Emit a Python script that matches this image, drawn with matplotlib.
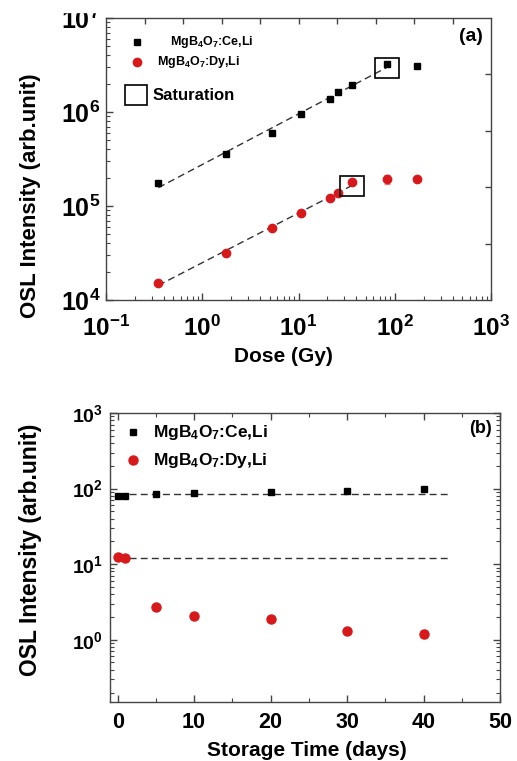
import numpy as np
import matplotlib
matplotlib.use("Agg")
import matplotlib.pyplot as plt
from matplotlib.ticker import LogLocator, FuncFormatter, MultipleLocator, FixedLocator, NullFormatter, NullLocator
from matplotlib.patches import Rectangle

plt.rcParams['font.family'] = ['Liberation Sans', 'DejaVu Sans']
plt.rcParams['font.weight'] = 'bold'
plt.rcParams['mathtext.fontset'] = 'custom'
plt.rcParams['mathtext.rm'] = 'Liberation Sans:bold'
plt.rcParams['mathtext.bf'] = 'Liberation Sans:bold'
plt.rcParams['mathtext.it'] = 'Liberation Sans:bold'

# ---------------- data: panel (a) dose response ----------------
dose_gy = [0.35, 1.75, 5.25, 10.5, 21, 26, 36, 84, 170]
ce_dose_intensity = [1.74e5, 3.55e5, 6.0e5, 9.5e5, 1.39e6, 1.63e6, 1.94e6, 3.24e6, 3.08e6]
dy_dose_intensity = [1.53e4, 3.14e4, 5.8e4, 8.36e4, 1.22e5, 1.38e5, 1.81e5, 1.92e5, 1.92e5]
dy_dose_err = [400, 800, 1500, 2000, 3000, 3500, 6000, 22000, 6000]
ce_linear_points = 8      # points used for the dashed power-law fit
dy_linear_points = 7
ce_saturation = (84, 3.24e6)
dy_saturation = (36, 1.81e5)

# ---------------- data: panel (b) fading ----------------
storage_days = [0, 1, 5, 10, 20, 30, 40]
ce_fading = [79, 80, 85, 87, 90, 94, 98]
dy_fading = [12.5, 12.0, 2.74, 2.09, 1.87, 1.29, 1.19]
dy_fading_err = [0.4, 0.4, 0.08, 0.08, 0.06, 0.07, 0.15]
ce_ref_level = 85
dy_ref_level = 12
ref_line_days = [0, 43.3]

label_ce = 'MgB$_4$O$_7$:Ce,Li'
label_dy = 'MgB$_4$O$_7$:Dy,Li'

RED = '#d7191c'
ERR = '#e88a8c'
LINE = '#333333'
SPINE = '#444444'

fig = plt.figure(figsize=(5.17, 7.61), dpi=100)
W, H = 517, 761


def px_axes(l, t, r, b):
    return fig.add_axes([l / W, 1 - b / H, (r - l) / W, (b - t) / H])


def logfmt(v, pos):
    e = int(round(np.log10(v)))
    return r'$\mathbf{10^{%d}}$' % e


# ================= panel (a) =================
ax = px_axes(106, 18, 491, 300)
ax.set_xscale('log')
ax.set_yscale('log')
ax.set_xlim(0.1, 1000)
ax.set_ylim(1e4, 1e7)

# fitted dashed lines
for xs, ys, n in [(dose_gy, ce_dose_intensity, ce_linear_points),
                  (dose_gy, dy_dose_intensity, dy_linear_points)]:
    lx = np.log10(xs[:n]); ly = np.log10(ys[:n])
    k, c = np.polyfit(lx, ly, 1)
    xx = np.array([xs[0], xs[n - 1] * 1.05])
    ax.plot(xx, 10 ** (c + k * np.log10(xx)), ls=(0, (5, 3)), color=LINE, lw=1.0, zorder=2)

ax.plot(dose_gy, ce_dose_intensity, 's', color='black', ms=5, zorder=3)
ax.errorbar(dose_gy, dy_dose_intensity, yerr=dy_dose_err, fmt='o', color=RED,
            ecolor=ERR, elinewidth=1, capsize=2, ms=6, zorder=3)

# saturation boxes (in log space around points)
for (sx, sy) in [ce_saturation, dy_saturation]:
    x0 = sx / 10 ** 0.13; x1 = sx * 10 ** 0.12
    y0 = sy / 10 ** 0.15; y1 = sy * 10 ** 0.062
    ax.add_patch(Rectangle((x0, y0), x1 - x0, y1 - y0, fill=False, ec='black', lw=1.2, zorder=4))

ax.tick_params(which='both', direction='in', top=False, right=False, color=SPINE)
ax.tick_params(which='major', length=5, width=1)
ax.tick_params(which='minor', length=3, width=0.8)
ax.xaxis.set_major_locator(LogLocator(base=10, numticks=10))
ax.xaxis.set_minor_locator(LogLocator(base=10, subs=np.arange(2, 10), numticks=20))
ax.yaxis.set_major_locator(LogLocator(base=10, numticks=10))
ax.yaxis.set_minor_locator(LogLocator(base=10, subs=np.arange(2, 10), numticks=20))
ax.xaxis.set_major_formatter(FuncFormatter(logfmt))
ax.yaxis.set_major_formatter(FuncFormatter(logfmt))
ax.xaxis.set_minor_formatter(NullFormatter())
ax.yaxis.set_minor_formatter(NullFormatter())
ax.tick_params(axis='x', labelsize=17.5, pad=11)
ax.tick_params(axis='y', labelsize=18, pad=4)
for s in ax.spines.values():
    s.set_color(SPINE); s.set_linewidth(1)

# odd top / right ticks
axt = ax.twiny()
axt.set_xscale('log'); axt.set_xlim(ax.get_xlim())
axt.xaxis.set_major_locator(FixedLocator(10 ** (-0.6 + 0.4 * np.arange(9))))
axt.xaxis.set_minor_locator(NullLocator())
axt.tick_params(axis='x', direction='in', length=4, width=1, labeltop=False, color=SPINE)
axr = ax.twinx()
axr.set_yscale('log'); axr.set_ylim(ax.get_ylim())
axr.yaxis.set_major_locator(FixedLocator(10 ** (4.6 + 0.6 * np.arange(4))))
axr.yaxis.set_minor_locator(NullLocator())
axr.tick_params(axis='y', direction='in', length=4, width=1, labelright=False, color=SPINE)
for a2 in (axt, axr):
    for s in a2.spines.values():
        s.set_visible(False)

ax.set_xlabel('Dose (Gy)', fontsize=15, fontweight='bold')
ax.xaxis.set_label_coords(0.462, -0.167)
ax.set_ylabel('OSL Intensity (arb.unit)', fontsize=16, fontweight='bold')
ax.yaxis.set_label_coords(-0.168, 0.37)

# legend (a)
ax.plot([0.0805], [0.915], 's', color='black', ms=5, transform=ax.transAxes, clip_on=False)
ax.text(0.166, 0.915, label_ce, transform=ax.transAxes, fontsize=9, fontweight='bold', va='center')
ax.plot([0.0805], [0.844], 'o', color=RED, ms=6, transform=ax.transAxes, clip_on=False)
ax.text(0.1325, 0.844, label_dy, transform=ax.transAxes, fontsize=9, fontweight='bold', va='center')
ax.add_patch(Rectangle((0.049, 0.691), 0.057, 0.071, transform=ax.transAxes, fill=False,
                       ec='black', lw=1.2))
ax.text(0.122, 0.724, 'Saturation', transform=ax.transAxes, fontsize=12, fontweight='bold', va='center')
ax.text(0.979, 0.933, '(a)', transform=ax.transAxes, fontsize=14, fontweight='bold',
        va='center', ha='right')

# ================= panel (b) =================
bx = px_axes(110, 413, 500, 702)
bx.set_yscale('log')
bx.set_xlim(-1, 50)
bx.set_ylim(0.15, 1000)

bx.plot(ref_line_days, [ce_ref_level, ce_ref_level], ls=(0, (5, 3)), color=LINE, lw=1.0, zorder=2)
bx.plot(ref_line_days, [dy_ref_level, dy_ref_level], ls=(0, (5, 3)), color=LINE, lw=1.0, zorder=2)
bx.plot(storage_days, ce_fading, 's', color='black', ms=5, zorder=3)
bx.errorbar(storage_days, dy_fading, yerr=dy_fading_err, fmt='o', color=RED, ecolor=ERR,
            elinewidth=1, capsize=2, ms=6.5, zorder=3)

bx.xaxis.set_major_locator(MultipleLocator(10))
bx.xaxis.set_minor_locator(MultipleLocator(5))
bx.yaxis.set_major_locator(LogLocator(base=10, numticks=10))
bx.yaxis.set_minor_locator(LogLocator(base=10, subs=np.arange(2, 10), numticks=20))
bx.yaxis.set_major_formatter(FuncFormatter(logfmt))
bx.yaxis.set_minor_formatter(NullFormatter())
bx.tick_params(which='both', direction='in', top=True, right=True, color=SPINE)
bx.tick_params(which='major', length=5, width=1)
bx.tick_params(which='minor', length=3, width=0.8)
bx.tick_params(axis='x', labelsize=15.5, pad=7)
bx.tick_params(axis='y', labelsize=14, pad=5)
for s in bx.spines.values():
    s.set_color(SPINE); s.set_linewidth(1)

bx.set_xlabel('Storage Time (days)', fontsize=15, fontweight='bold')
bx.xaxis.set_label_coords(0.505, -0.134)
bx.set_ylabel('OSL Intensity (arb.unit)', fontsize=16.5, fontweight='bold')
bx.yaxis.set_label_coords(-0.175, 0.526)

bx.plot([0.059], [0.934], 's', color='black', ms=5, transform=bx.transAxes, clip_on=False)
bx.text(0.11, 0.934, label_ce, transform=bx.transAxes, fontsize=12.5, fontweight='bold', va='center')
bx.plot([0.059], [0.837], 'o', color=RED, ms=6.5, transform=bx.transAxes, clip_on=False)
bx.text(0.11, 0.837, label_dy, transform=bx.transAxes, fontsize=12.5, fontweight='bold', va='center')
bx.text(0.979, 0.948, '(b)', transform=bx.transAxes, fontsize=13, fontweight='bold',
        va='center', ha='right')

# original figure is cropped just above panel (a)
fig.add_artist(Rectangle((0, 1 - 12 / H), 1, 12 / H, transform=fig.transFigure,
                         color='white', zorder=20))

fig.savefig('out.png', dpi=100)
